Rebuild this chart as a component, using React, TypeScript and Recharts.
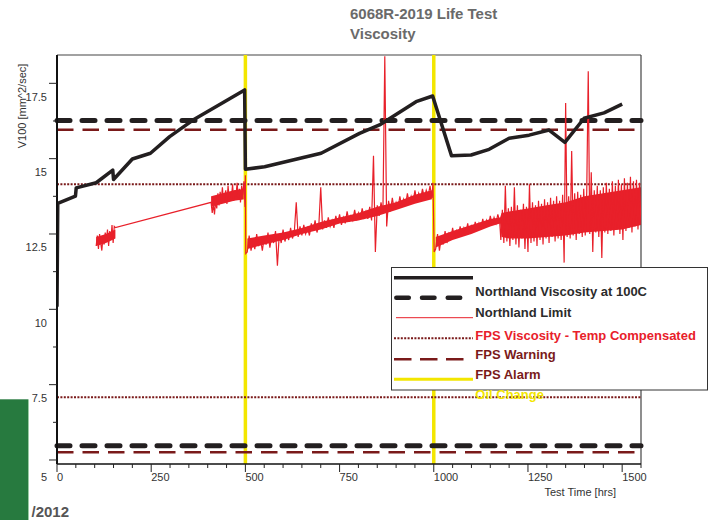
import React from 'react';
import { ComposedChart, Line, Area, XAxis, YAxis, ReferenceLine } from 'recharts';

const FONT = 'Arial, "Liberation Sans", Helvetica, sans-serif';

// Northland lab viscosity (hrs, cSt)
const northlandHours = [0, 2, 49, 51, 104, 148, 150, 200, 248, 299, 361, 449, 498, 500, 551, 701, 803, 856, 953, 997, 1047, 1099, 1147, 1200, 1253, 1306, 1348, 1399, 1452, 1500];
const northlandVisc = [10.09, 13.52, 13.76, 14.03, 14.2, 14.62, 14.31, 14.99, 15.18, 15.73, 16.28, 16.92, 17.28, 14.65, 14.73, 15.18, 15.84, 16.12, 16.89, 17.08, 15.1, 15.12, 15.31, 15.68, 15.78, 15.95, 15.54, 16.34, 16.52, 16.81];

// FPS sensor readings, sampled runs
const fpsA = [12.1, 12.45, 12.0, 12.5, 12.2, 11.95, 12.4, 12.15, 12.55, 12.25, 12.65, 12.1, 12.6, 12.3, 12.8, 12.2, 12.75, 12.71];
const fpsB = [
  13.55, 13.2, 13.5, 13.15, 13.6, 13.35, 13.85, 13.45, 13.9, 13.6,
  14.05, 13.55, 13.8, 13.95, 13.5, 14.1, 13.65, 13.9, 13.7, 14.15,
  13.6, 13.95, 13.75, 14.2, 13.7, 14.0, 13.55, 14.1, 13.8, 14.25,
  13.4,
];
const fpsC = [
  11.9, 12.45, 11.95, 12.3, 12.0, 12.5, 12.1, 12.35, 11.95, 12.4,
  12.15, 12.55, 12.05, 12.45, 12.2, 12.6, 11.45, 12.5, 12.2, 12.65,
  12.25, 12.5, 12.3, 12.7, 12.35, 12.6, 13.55, 12.4, 12.75, 12.45,
  12.8, 12.5, 12.7, 12.45, 12.85, 12.6, 12.95, 12.55, 12.8, 14.05,
  12.65, 12.95, 12.7, 13.05, 12.75, 12.95, 12.7, 13.1, 12.85, 13.15,
  12.8, 13.05, 12.85, 13.25, 12.9, 13.1, 12.95, 13.3, 12.95, 13.2,
  13.0, 13.35, 13.05, 13.25, 13.0, 13.4, 12.95, 15.1, 11.9, 13.45,
  13.1, 13.55, 13.2, 18.4, 12.75, 13.6, 13.25, 13.7, 13.3, 13.55,
  13.35, 13.75, 13.4, 13.65, 13.45, 13.85, 13.5, 13.75, 13.55, 13.95,
  13.6, 13.85, 13.65, 14.0, 13.7, 13.95, 13.75, 14.1, 13.7,
];
const fpsD1 = [
  12.0, 12.5, 11.95, 12.4, 12.15, 12.6, 12.2, 12.5, 12.3, 12.7,
  12.35, 12.6, 12.4, 12.75, 12.45, 12.7, 12.5, 12.85, 12.5, 12.8,
  12.55, 12.9, 12.6, 12.85, 12.65, 13.0, 12.7, 12.95, 12.75, 13.1,
  12.8, 13.05, 12.85, 13.15, 12.9,
];
const fpsD2 = [
  12.3, 13.3, 12.2, 14.1, 12.25, 13.35, 12.1, 13.4, 12.3, 14.05,
  12.15, 13.45, 12.05, 13.3, 12.35, 13.5, 12.0, 13.4, 11.9, 14.15,
  12.2, 13.55, 12.25, 13.45, 12.1, 13.6, 12.3, 13.5, 12.15, 13.65,
  12.35, 13.55, 12.2, 13.7, 12.4, 13.6, 12.25, 13.75, 12.35, 13.6,
  12.3, 13.8, 11.55, 16.85, 12.4, 13.75, 12.35, 15.25, 12.45, 13.85,
  12.3, 13.9, 12.5, 13.8, 12.4, 14.0, 12.45, 13.9, 17.9, 12.5,
  14.55, 11.9, 13.95, 12.55, 14.1, 12.4, 13.95, 11.7, 14.05, 12.55,
  14.2, 12.5, 14.0, 12.6, 14.25, 12.45, 14.1, 12.65, 14.3, 12.5,
  14.15, 12.3, 14.35, 12.6, 14.2, 12.7, 14.4, 12.55, 14.25, 12.75,
  14.3, 12.65, 14.2, 12.8,
];
const fpsRuns = [
  { start: 104, step: 3, values: fpsA },
  { start: 409, step: 3, values: fpsB },
  { start: 505, step: 5, values: fpsC },
  { start: 1005, step: 5, values: fpsD1 },
  { start: 1178, step: 4, values: fpsD2 },
];
// jumps at the oil changes
const fpsJumpHours = [500, 501, 998, 1001];
const fpsJumpVisc = [14.45, 11.85, 14.2, 11.9];

// solid core of the FPS noise band (low / high edge)
const coreBands = [
  { hours: [104, 130, 155], lo: [12.1, 12.2, 12.35], hi: [12.4, 12.5, 12.65] },
  { hours: [409, 440, 470, 499], lo: [13.4, 13.5, 13.6, 13.65], hi: [13.75, 13.85, 13.95, 14.0] },
  {
    hours: [505, 550, 600, 650, 700, 750, 800, 850, 900, 950, 995],
    lo: [12.0, 12.15, 12.3, 12.5, 12.65, 12.85, 12.95, 13.1, 13.3, 13.5, 13.65],
    hi: [12.35, 12.45, 12.55, 12.7, 12.9, 13.05, 13.2, 13.4, 13.55, 13.8, 13.95],
  },
  {
    hours: [1005, 1050, 1100, 1150, 1176, 1180, 1200, 1250, 1300, 1350, 1400, 1450, 1500, 1550],
    lo: [12.05, 12.3, 12.5, 12.75, 12.85, 12.4, 12.35, 12.35, 12.4, 12.45, 12.55, 12.6, 12.65, 12.8],
    hi: [12.4, 12.6, 12.8, 13.0, 13.05, 13.2, 13.25, 13.35, 13.45, 13.55, 13.75, 13.85, 13.95, 14.05],
  },
];

// horizontal limit lines
const blackDashLevels = [16.27, 5.47];
const maroonDashLevels = [15.96, 5.26];
const dottedLevels = [14.15, 7.08];
const oilChangeHours = [500, 1000];

const xMajor = [0, 250, 500, 750, 1000, 1250, 1500];
const xTicks = Array.from({ length: 32 }, (_, i) => i * 50);
const yMajor = [5, 7.5, 10, 12.5, 15, 17.5];
const yTicks = [5, 6.25, 7.5, 8.75, 10, 11.25, 12.5, 13.75, 15, 16.25, 17.5];

const X_MAX = 1550;
const Y_MIN = 4.867;
const Y_MAX = 18.44;

const northlandData = northlandHours.map((t, i) => ({ t, v: northlandVisc[i] }));
const fpsData = [
  ...fpsRuns.flatMap((r) => r.values.map((v, i) => ({ t: r.start + i * r.step, v }))),
  ...fpsJumpHours.map((t, i) => ({ t, v: fpsJumpVisc[i] })),
].sort((a, b) => a.t - b.t);
const coreData = coreBands.map((b) => b.hours.map((t, i) => ({ t, range: [b.lo[i], b.hi[i]] })));

const RED = '#e8202a';
const MAROON = '#7a1a1a';
const YELLOW = '#f3e600';
const BLACK = '#231f20';

const XTick = ({ x, y, payload }: any) => {
  const major = xMajor.includes(payload.value);
  return (
    <g>
      <line x1={x} x2={x} y1={y} y2={y + (major ? 8 : 4)} stroke="#222" />
      {major && (
        <text x={x} y={y + 17} textAnchor="start" fontSize={11} fill="#333" fontFamily={FONT}>
          {payload.value}
        </text>
      )}
    </g>
  );
};

const YTick = ({ x, y, payload }: any) => {
  const major = yMajor.includes(payload.value);
  return (
    <g>
      <line x1={x - (major ? 8 : 4)} x2={x} y1={y} y2={y} stroke="#222" />
      {major && (
        <text x={x - 10} y={y + (payload.value === 5 ? 21 : 17.5)} textAnchor="end" fontSize={11} fill="#333" fontFamily={FONT}>
          {payload.value}
        </text>
      )}
    </g>
  );
};

const Overlay = () => (
  <svg width={712} height={520} style={{ position: 'absolute', left: 0, top: 0, pointerEvents: 'none' }} fontFamily={FONT}>
    <text x={350} y={19.3} fontSize={15} fontWeight="bold" fill="#6a6a6a">6068R-2019 Life Test</text>
    <text x={350} y={38.7} fontSize={15} fontWeight="bold" fill="#6a6a6a">Viscosity</text>
    <text transform="translate(25.5,106) rotate(-90)" textAnchor="middle" fontSize={11} fill="#333">V100 [mm^2/sec]</text>
    <text x={616} y={496} textAnchor="end" fontSize={11} fill="#333">Test Time [hrs]</text>

    <rect x={391.5} y={267.5} width={316} height={122.5} fill="#fff" stroke="#333" strokeWidth={1} />
    <line x1={394} x2={473} y1={277.7} y2={277.7} stroke={BLACK} strokeWidth={3.5} />
    <line x1={396.3} x2={461} y1={297.7} y2={297.7} stroke={BLACK} strokeWidth={4.5} strokeLinecap="round" strokeDasharray="12.5 13.2" />
    <line x1={396} x2={473} y1={317.7} y2={317.7} stroke={RED} strokeWidth={1} />
    <line x1={394} x2={473} y1={338.3} y2={338.3} stroke={MAROON} strokeWidth={2} strokeDasharray="2 1.4" />
    <line x1={394} x2={465} y1={359.3} y2={359.3} stroke={MAROON} strokeWidth={2.5} strokeDasharray="17.5 8.5" />
    <line x1={394} x2={473} y1={379.3} y2={379.3} stroke={YELLOW} strokeWidth={3} />
    <g fontSize={13} fontWeight="bold">
      <text x={475.3} y={295.7} fill="#2b2b2b">Northland Viscosity at 100C</text>
      <text x={475.3} y={317.4} fill="#2b2b2b">Northland Limit</text>
      <text x={475.3} y={340.4} fill={RED}>FPS Viscosity - Temp Compensated</text>
      <text x={475.3} y={358.7} fill={MAROON}>FPS Warning</text>
      <text x={475.3} y={378.7} fill={MAROON}>FPS Alarm</text>
      <text x={475.3} y={399} fill={YELLOW}>Oil Change</text>
    </g>

    <rect x={0} y={399.3} width={28} height={121} fill="#277a3f" />
    <line x1={28.5} x2={28.5} y1={399.3} y2={520} stroke="#9ccaa4" strokeWidth={1} />
    <text x={31.5} y={516.5} fontSize={15} fontWeight="bold" fill="#555">/2012</text>
  </svg>
);

export default function App() {
  return (
    <div style={{ position: 'absolute', left: 0, top: 0, width: 712, height: 520, overflow: 'hidden', background: '#fff' }}>
      <ComposedChart width={712} height={520} margin={{ top: 55, right: 71, bottom: 16, left: 0 }}>
        <XAxis
          dataKey="t"
          type="number"
          domain={[0, X_MAX]}
          ticks={xTicks}
          interval={0}
          allowDataOverflow
          height={40}
          tickLine={false}
          tickSize={0}
          tickMargin={0}
          tick={<XTick />}
          axisLine={{ stroke: '#111', strokeWidth: 1.5 }}
        />
        <YAxis
          type="number"
          domain={[Y_MIN, Y_MAX]}
          ticks={yTicks}
          interval={0}
          allowDataOverflow
          width={57}
          tickLine={false}
          tickSize={0}
          tickMargin={0}
          tick={<YTick />}
          axisLine={{ stroke: '#111', strokeWidth: 2 }}
        />
        <ReferenceLine y={Y_MAX} stroke="#444" strokeWidth={1.2} />
        <ReferenceLine x={X_MAX} stroke="#444" strokeWidth={1.2} />
        {oilChangeHours.map((h) => (
          <ReferenceLine key={`oc-${h}`} x={h} stroke={YELLOW} strokeWidth={3.5} />
        ))}
        {dottedLevels.map((v) => (
          <ReferenceLine key={`dot-${v}`} y={v} stroke={MAROON} strokeWidth={2} strokeDasharray="2 1.4" />
        ))}
        {maroonDashLevels.map((v) => (
          <ReferenceLine key={`md-${v}`} y={v} stroke={MAROON} strokeWidth={2.5} strokeDasharray="16.5 9" />
        ))}
        {blackDashLevels.map((v) => (
          <ReferenceLine key={`bd-${v}`} y={v} stroke={BLACK} strokeWidth={5} strokeDasharray="13 12" strokeLinecap="round" />
        ))}
        {coreData.map((d, i) => (
          <Area
            key={`core-${i}`}
            data={d}
            dataKey="range"
            type="linear"
            stroke="none"
            fill={RED}
            fillOpacity={1}
            dot={false}
            activeDot={false}
            isAnimationActive={false}
          />
        ))}
        <Line
          data={fpsData}
          dataKey="v"
          type="linear"
          stroke={RED}
          strokeWidth={1.2}
          dot={false}
          activeDot={false}
          isAnimationActive={false}
        />
        <Line
          data={northlandData}
          dataKey="v"
          type="linear"
          stroke={BLACK}
          strokeWidth={3.5}
          strokeLinejoin="round"
          dot={false}
          activeDot={false}
          isAnimationActive={false}
        />
      </ComposedChart>
      <Overlay />
    </div>
  );
}
